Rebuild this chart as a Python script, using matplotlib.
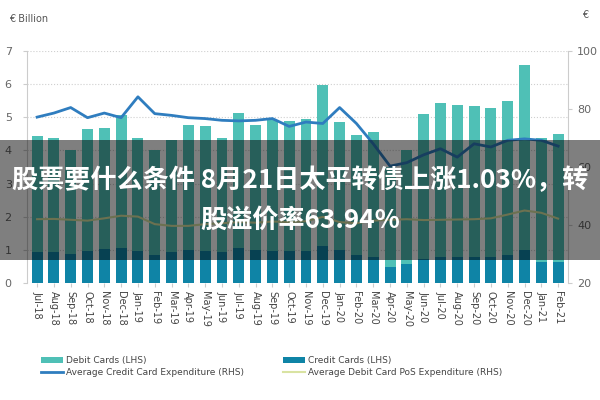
import numpy as np
import matplotlib.pyplot as plt
from matplotlib.patches import Rectangle

months = ['Jul-18', 'Aug-18', 'Sep-18', 'Oct-18', 'Nov-18', 'Dec-18',
          'Jan-19', 'Feb-19', 'Mar-19', 'Apr-19', 'May-19', 'Jun-19',
          'Jul-19', 'Aug-19', 'Sep-19', 'Oct-19', 'Nov-19', 'Dec-19',
          'Jan-20', 'Feb-20', 'Mar-20', 'Apr-20', 'May-20', 'Jun-20',
          'Jul-20', 'Aug-20', 'Sep-20', 'Oct-20', 'Nov-20', 'Dec-20',
          'Jan-21', 'Feb-21']

# LHS, billion
debit = [4.45, 4.36, 4.0, 4.64, 4.67, 5.06, 4.36, 4.0, 4.3, 4.76, 4.73, 4.39,
         5.12, 4.76, 4.91, 4.9, 4.94, 5.97, 4.85, 4.48, 4.55, 3.5, 4.0, 5.1,
         5.42, 5.36, 5.33, 5.27, 5.5, 6.58, 4.39, 4.5]
credit = [0.93, 0.93, 0.88, 0.98, 1.03, 1.05, 0.98, 0.85, 0.93, 0.99, 0.98, 0.93,
          1.06, 0.99, 0.98, 0.98, 0.98, 1.12, 0.99, 0.85, 0.77, 0.47, 0.57, 0.72,
          0.79, 0.79, 0.79, 0.79, 0.85, 0.99, 0.62, 0.62]

# RHS
avg_credit = [77.2, 78.6, 80.5, 77.0, 78.6, 77.0, 84.2, 78.4, 77.8, 77.0, 76.7, 76.1,
              75.9, 76.1, 76.7, 74.0, 75.5, 75.0, 80.5, 75.0, 68.0, 60.3, 61.5, 64.2,
              66.3, 63.4, 68.0, 66.9, 69.2, 69.7, 69.2, 67.2]
avg_debit_pos = [42.0, 42.1, 41.8, 41.5, 42.3, 43.2, 42.9, 40.3, 39.7, 39.7, 40.3, 40.6,
                 41.0, 40.8, 41.2, 41.0, 41.3, 42.8, 41.0, 40.6, 41.5, 41.8, 42.0, 41.7,
                 41.8, 41.9, 42.0, 42.3, 43.6, 45.0, 44.2, 42.2]

title1 = '股票要什么条件 8月21日太平转债上涨1.03%，转'
title2 = '股溢价率63.94%'

small = ['Liberation Sans Narrow', 'DejaVu Sans']

fig = plt.figure(figsize=(6, 4), dpi=100)
ax = fig.add_axes([0.045, 0.2925, 0.902, 0.58])
x = np.arange(len(months))

b1 = ax.bar(x, debit, width=0.65, color='#4fc0b6', zorder=2, label='Debit Cards (LHS)')
b2 = ax.bar(x, credit, width=0.65, color='#0f84a6', zorder=3, label='Credit Cards (LHS)')
ax.set_ylim(0, 7)
ax.set_xlim(-0.6, len(months) - 0.4)
ax.set_yticks(range(8))
ax.grid(axis='y', linestyle=':', color='#cfcfcf', linewidth=0.8, zorder=0)
ax.set_xticks(x)
ax.set_xticklabels(months, rotation=-90, fontsize=7, color='#444444', family=small)
ax.tick_params(axis='y', labelsize=8, colors='#666666', length=3, color='#cccccc', pad=8)
ax.tick_params(axis='x', length=3, color='#cccccc', pad=3)
for s in ['top', 'bottom']:
    ax.spines[s].set_visible(False)
ax.spines['left'].set_color('#cccccc')
ax.spines['right'].set_visible(False)

ax2 = ax.twinx()
l1, = ax2.plot(x, avg_credit, color='#2f7dbf', linewidth=2, label='Average Credit Card Expenditure (RHS)')
l2, = ax2.plot(x, avg_debit_pos, color='#d9e3a2', linewidth=1.5, label='Average Debit Card PoS Expenditure (RHS)')
ax2.set_ylim(20, 100)
ax2.set_yticks([20, 40, 60, 80, 100])
ax2.tick_params(axis='y', labelsize=8, colors='#666666', length=3, color='#cccccc')
for s in ['top', 'bottom', 'left']:
    ax2.spines[s].set_visible(False)
ax2.spines['right'].set_color('#cccccc')

fig.text(0.015, 0.945, '€ Billion', fontsize=7, color='#555555', family=small)
fig.text(0.975, 0.955, '€', fontsize=7, color='#555555', ha='center')

fig.legend([b1, l1, b2, l2],
           ['Debit Cards (LHS)', 'Average Credit Card Expenditure (RHS)',
            'Credit Cards (LHS)', 'Average Debit Card PoS Expenditure (RHS)'],
           ncol=2, loc='upper left', bbox_to_anchor=(0.055, 0.13), frameon=False,
           prop={'family': small, 'size': 6.5}, handlelength=2.4, handleheight=0.6,
           columnspacing=4.4, labelspacing=0.35, handletextpad=0.3, labelcolor='#444444')

# dark overlay band with headline
fig.patches.append(Rectangle((0, 0.35), 1, 0.3, transform=fig.transFigure,
                             facecolor='black', alpha=0.5, zorder=5))
cjk = ['Noto Sans CJK SC', 'DejaVu Sans']
fig.text(0.5, 0.548, title1, ha='center', va='center', color='white',
         fontsize=18.8, fontweight='bold', family=cjk, zorder=6)
fig.text(0.5, 0.45, title2, ha='center', va='center', color='white',
         fontsize=18.8, fontweight='bold', family=cjk, zorder=6)

fig.savefig('out.png', dpi=100)
